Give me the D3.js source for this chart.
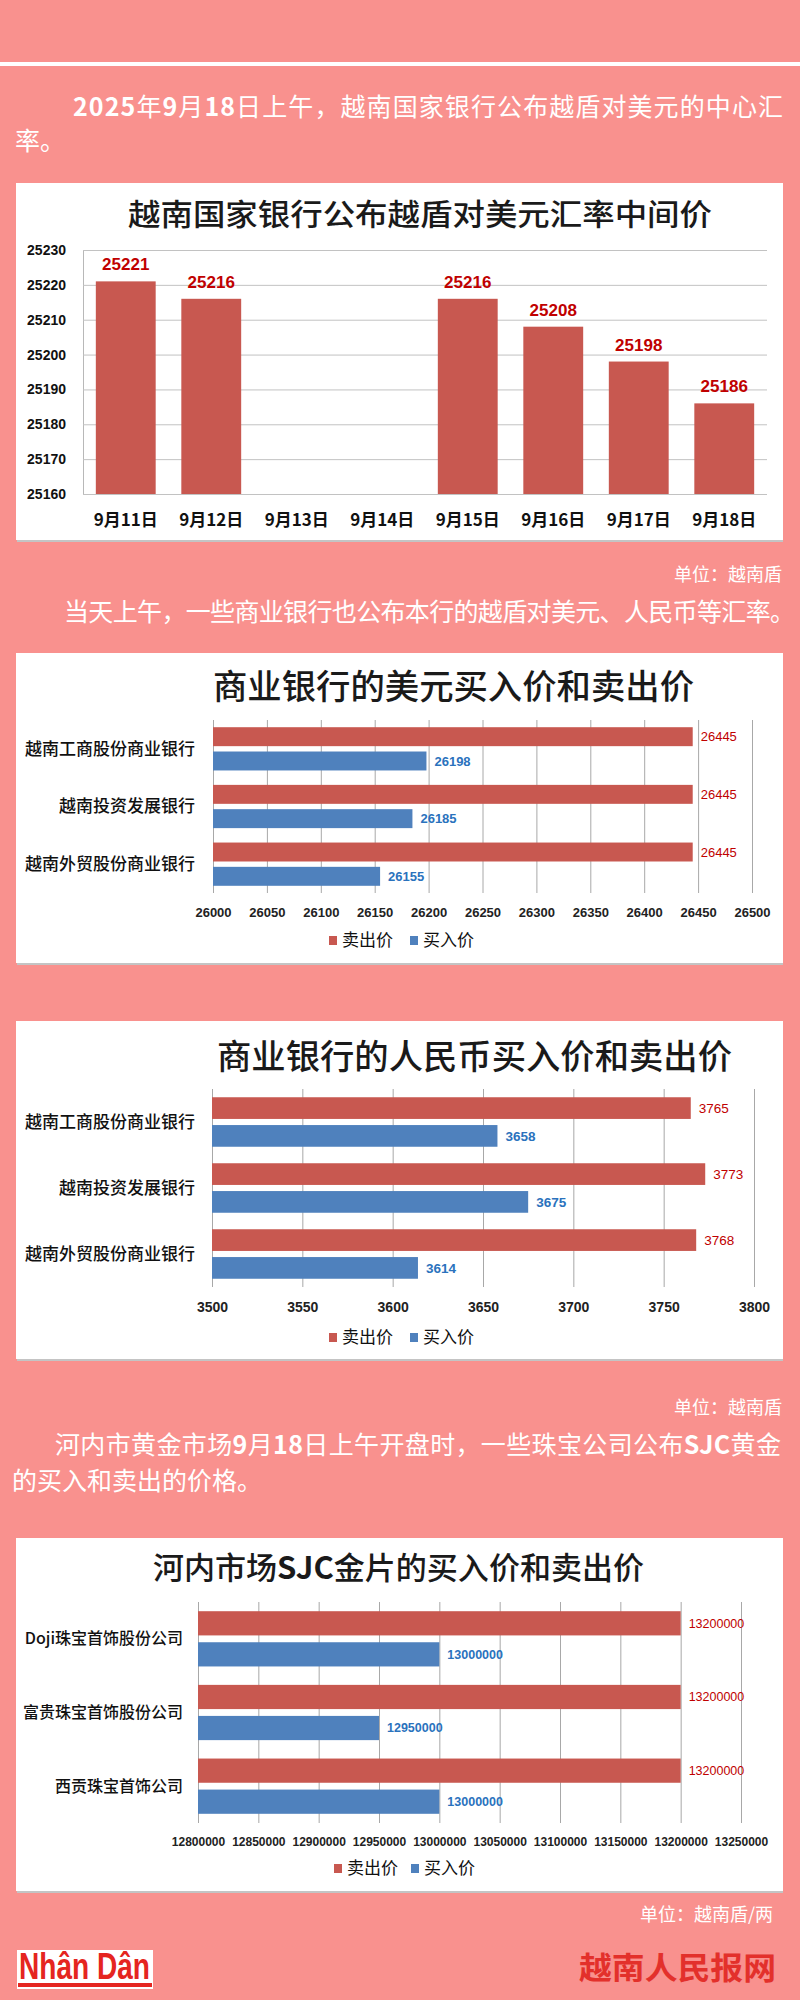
<!DOCTYPE html>
<html><head><meta charset="utf-8">
<script src="https://cdn.jsdelivr.net/npm/d3@7"></script>
<style>body{margin:0;background:#f9918e;} svg{display:block}</style>
</head><body>
<script>
// ---------- data ----------
const dates = ["9月11日","9月12日","9月13日","9月14日","9月15日","9月16日","9月17日","9月18日"];
const midRates = [25221, 25216, null, null, 25216, 25208, 25198, 25186];
const midDomain = [25160, 25230];
const midStep = 10;

const seriesNames = ["卖出价","买入价"];
const banks = ["越南工商股份商业银行","越南投资发展银行","越南外贸股份商业银行"];
const usdSell = [26445, 26445, 26445];
const usdBuy = [26198, 26185, 26155];
const usdDomain = [26000, 26500];
const usdStep = 50;

const cnySell = [3765, 3773, 3768];
const cnyBuy = [3658, 3675, 3614];
const cnyDomain = [3500, 3800];
const cnyStep = 50;

const goldCompanies = ["Doji珠宝首饰股份公司","富贵珠宝首饰股份公司","西贡珠宝首饰公司"];
const goldSell = [13200000, 13200000, 13200000];
const goldBuy = [13000000, 12950000, 13000000];
const goldDomain = [12800000, 13250000];
const goldStep = 50000;

// ---------- styles ----------
const CJK = "'Noto Sans CJK SC','Noto Sans',sans-serif";
const NUM = "'Liberation Sans',Arial,sans-serif";
const BG = "#f9918e", RED = "#c85850", BLUE = "#4f81bd", RED_T = "#c00000", BLUE_T = "#2a72bd";

const svg = d3.select("body").append("svg").attr("width", 800).attr("height", 2000);
svg.append("rect").attr("width", 800).attr("height", 2000).attr("fill", BG);
svg.append("rect").attr("x", 0).attr("y", 62).attr("width", 800).attr("height", 4).attr("fill", "#fff");

function para(x, y, parts, size, len, anchor) {
  const t = svg.append("text").attr("x", x).attr("y", y)
    .attr("font-family", CJK).attr("font-size", size).attr("fill", "#fff");
  if (anchor) t.attr("text-anchor", anchor);
  parts.forEach(p => t.append("tspan").text(p[0]).attr("font-weight", p[1] ? 700 : 400));
  if (len) t.attr("textLength", len).attr("lengthAdjust", "spacing");
  return t;
}
function box(y0, y1) {
  svg.append("rect").attr("x", 17).attr("y", y0 + 2).attr("width", 766).attr("height", y1 - y0).attr("fill", "#c4c4c4");
  svg.append("rect").attr("x", 16).attr("y", y0).attr("width", 767).attr("height", y1 - y0).attr("fill", "#fff");
}
function title(x, y, parts, size, len) {
  const t = svg.append("text").attr("x", x).attr("y", y)
    .attr("font-family", CJK).attr("font-size", size).attr("font-weight", 500).attr("fill", "#1a1a1a")
    .attr("textLength", len).attr("lengthAdjust", "spacingAndGlyphs");
  parts.forEach(p => t.append("tspan").text(p[0]).attr("font-weight", p[1] ? 700 : 500));
}

// ---------- texts ----------
para(73, 116, [["2025",1],["年"],["9",1],["月"],["18",1],["日上午，越南国家银行公布越盾对美元的中心汇"]], 25, 710);
para(15, 150, [["率。"]], 25);
para(782, 581, [["单位：越南盾"]], 18, null, "end");
para(64, 621, [["当天上午，一些商业银行也公布本行的越盾对美元、人民币等汇率。"]], 25, 731);
para(782, 1414, [["单位：越南盾"]], 18, null, "end");
para(55, 1454, [["河内市黄金市场"],["9",1],["月"],["18",1],["日上午开盘时，一些珠宝公司公布"],["SJC",1],["黄金"]], 25, 726);
para(12, 1490, [["的买入和卖出的价格。"]], 25);
para(773, 1921, [["单位：越南盾/两"]], 18, null, "end");

// ---------- chart 1: vertical bars ----------
box(183, 540);
title(128, 225, [["越南国家银行公布越盾对美元汇率中间价"]], 30, 584);
(function () {
  const L = 83, R = 767, T = 250, B = 494;
  const x = d3.scaleBand().domain(dates).range([L, R]).paddingInner(0.3).paddingOuter(0.15);
  const y = d3.scaleLinear().domain(midDomain).range([B, T]);
  const g = svg.append("g");
  const ay = g.append("g").attr("transform", `translate(${L},0)`)
    .call(d3.axisLeft(y).tickValues(d3.range(midDomain[0], midDomain[1] + midStep / 2, midStep))
      .tickSize(-(R - L)).tickSizeOuter(0).tickPadding(17).tickFormat(d3.format("d")));
  ay.select(".domain").attr("stroke", "#b8b8b8");
  ay.selectAll(".tick line").attr("stroke", "#c2c2c2");
  ay.selectAll(".tick text").attr("font-family", NUM).attr("font-size", 14).attr("font-weight", 700).attr("fill", "#111");
  const ax = g.append("g").attr("transform", `translate(0,${B})`)
    .call(d3.axisBottom(x).tickSize(0));
  ax.select(".domain").remove();
  ax.selectAll(".tick text").attr("y", 32).attr("dy", 0)
    .attr("font-family", CJK).attr("font-size", 17).attr("font-weight", 700).attr("fill", "#111");
  const data = dates.map((d, i) => ({ d, v: midRates[i] })).filter(o => o.v != null);
  g.selectAll("rect.bar").data(data).join("rect").attr("class", "bar")
    .attr("x", o => x(o.d)).attr("y", o => y(o.v)).attr("width", x.bandwidth())
    .attr("height", o => B - y(o.v)).attr("fill", RED);
  g.selectAll("text.val").data(data).join("text").attr("class", "val")
    .attr("x", o => x(o.d) + x.bandwidth() / 2).attr("y", o => y(o.v) - 11)
    .attr("text-anchor", "middle").attr("font-family", NUM).attr("font-size", 17)
    .attr("font-weight", 700).attr("fill", RED_T).text(o => o.v);
})();

// ---------- horizontal grouped bar charts ----------
function hbar(o) {
  const g = svg.append("g");
  const x = d3.scaleLinear().domain(o.domain).range([o.x0, o.x1]);
  const y0 = d3.scaleBand().domain(o.cats).range([o.top, o.bottom]).paddingInner(0.25).paddingOuter(0.125);
  const y1 = d3.scaleBand().domain(seriesNames).range([0, y0.bandwidth()]).paddingInner(0.22);
  const ax = g.append("g").attr("transform", `translate(0,${o.bottom})`)
    .call(d3.axisBottom(x).tickValues(d3.range(o.domain[0], o.domain[1] + o.step / 2, o.step))
      .tickSize(-(o.bottom - o.top)).tickFormat(d3.format("d")));
  ax.select(".domain").remove();
  ax.selectAll(".tick line").attr("stroke", "#a8a8a8");
  ax.selectAll(".tick text").attr("y", o.tickY).attr("dy", 0)
    .attr("font-family", NUM).attr("font-size", o.tickFont).attr("font-weight", 700).attr("fill", "#222");
  const rows = o.cats.map((c, i) => ({ c, vals: [{ s: seriesNames[0], v: o.sell[i] }, { s: seriesNames[1], v: o.buy[i] }] }));
  const grp = g.selectAll("g.grp").data(rows).join("g").attr("class", "grp")
    .attr("transform", r => `translate(0,${y0(r.c)})`);
  grp.selectAll("rect").data(r => r.vals).join("rect")
    .attr("x", x(o.domain[0])).attr("y", d => y1(d.s))
    .attr("width", d => x(d.v) - x(o.domain[0])).attr("height", y1.bandwidth())
    .attr("fill", d => d.s === seriesNames[0] ? RED : BLUE);
  grp.selectAll("text.val").data(r => r.vals).join("text").attr("class", "val")
    .attr("x", d => x(d.v) + 8).attr("y", d => y1(d.s) + y1.bandwidth() / 2).attr("dy", "0.35em")
    .attr("font-family", NUM).attr("font-size", o.valFont)
    .attr("font-weight", d => d.s === seriesNames[0] ? 400 : 700)
    .attr("fill", d => d.s === seriesNames[0] ? RED_T : BLUE_T).text(d => d.v);
  g.selectAll("text.cat").data(o.cats).join("text").attr("class", "cat")
    .attr("x", o.labelX).attr("y", c => y0(c) + y0.bandwidth() / 2).attr("dy", "0.35em")
    .attr("text-anchor", "end").attr("font-family", CJK).attr("font-size", o.catFont)
    .attr("font-weight", 500).attr("fill", "#111").text(c => c);
  const lg = g.append("g");
  seriesNames.forEach((s, i) => {
    lg.append("rect").attr("x", o.legX[i]).attr("y", o.legendY - 4).attr("width", 8).attr("height", 9)
      .attr("fill", i === 0 ? RED : BLUE);
    lg.append("text").attr("x", o.legX[i] + 13).attr("y", o.legendY + 6).attr("font-family", CJK)
      .attr("font-size", 17).attr("fill", "#111").text(s);
  });
}

box(653, 963);
title(213, 699, [["商业银行的美元买入价和卖出价"]], 34, 481);
hbar({ cats: banks, sell: usdSell, buy: usdBuy, domain: usdDomain, step: usdStep,
  x0: 213, x1: 752, top: 720, bottom: 893, tickY: 24, tickFont: 13, valFont: 13,
  labelX: 195, catFont: 17, legendY: 940, legX: [329, 410] });

box(1021, 1359);
title(217, 1069, [["商业银行的人民币买入价和卖出价"]], 34, 515);
hbar({ cats: banks, sell: cnySell, buy: cnyBuy, domain: cnyDomain, step: cnyStep,
  x0: 212, x1: 754, top: 1089, bottom: 1287, tickY: 25, tickFont: 14, valFont: 13.5,
  labelX: 195, catFont: 17, legendY: 1337, legX: [329, 410] });

box(1538, 1891);
title(153, 1579, [["河内市场"],["SJC",1],["金片的买入价和卖出价"]], 31, 491);
hbar({ cats: goldCompanies, sell: goldSell, buy: goldBuy, domain: goldDomain, step: goldStep,
  x0: 198, x1: 741, top: 1602, bottom: 1823, tickY: 23, tickFont: 12, valFont: 12.5,
  labelX: 183, catFont: 16, legendY: 1868, legX: [334, 411] });

// ---------- footer ----------
svg.append("rect").attr("x", 17).attr("y", 1950).attr("width", 136).attr("height", 39).attr("fill", "#fff");
svg.append("text").attr("x", 19).attr("y", 1979).attr("font-family", "'Liberation Sans Narrow','Liberation Sans',Arial,sans-serif")
  .attr("font-size", 36).attr("font-weight", 700).attr("fill", "#e52520")
  .attr("textLength", 131).attr("lengthAdjust", "spacingAndGlyphs").text("Nhân Dân");
svg.append("rect").attr("x", 18).attr("y", 1983).attr("width", 134).attr("height", 4).attr("fill", "#e52520");
svg.append("text").attr("x", 579).attr("y", 1979).attr("font-family", CJK).attr("font-size", 31)
  .attr("font-weight", 700).attr("fill", "#e3302b")
  .attr("textLength", 197).attr("lengthAdjust", "spacingAndGlyphs").text("越南人民报网");
</script>
</body></html>
